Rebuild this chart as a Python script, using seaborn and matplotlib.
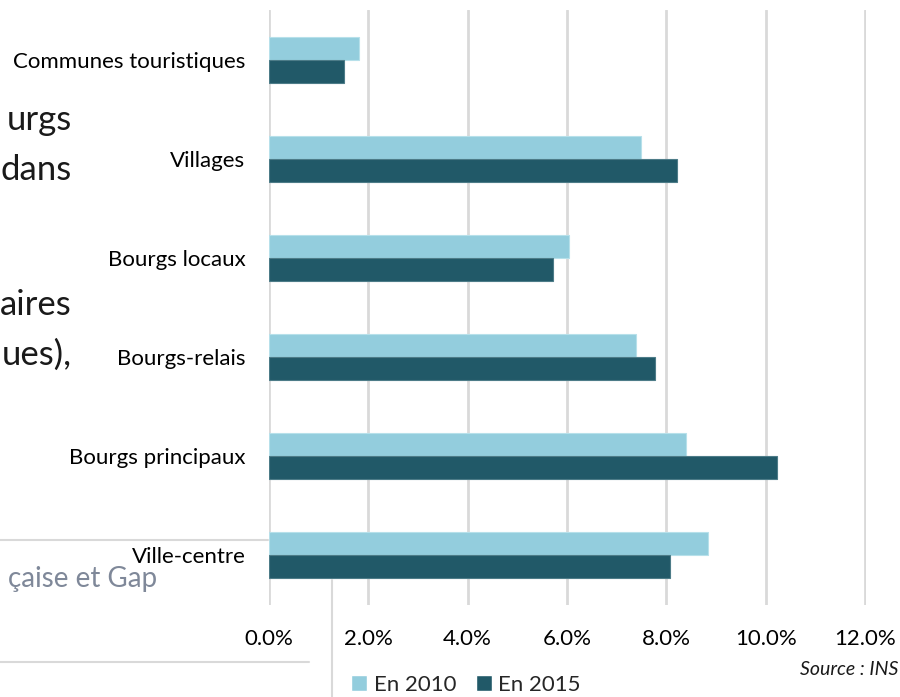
import numpy as np
import pandas as pd
import matplotlib.pyplot as plt
import seaborn as sns
from matplotlib.ticker import PercentFormatter
from matplotlib.lines import Line2D
from matplotlib.patches import Patch

# ---- data ----
categories = ["Communes touristiques", "Villages", "Bourgs locaux",
              "Bourgs-relais", "Bourgs principaux", "Ville-centre"]
years = ["En 2010", "En 2015"]
share_2010 = [0.0181, 0.0748, 0.0604, 0.0738, 0.0840, 0.0883]
share_2015 = [0.0151, 0.0822, 0.0572, 0.0778, 0.1023, 0.0807]
x_ticks = [0.0, 0.02, 0.04, 0.06, 0.08, 0.10, 0.12]

light = "#93cddd"
dark = "#215968"

df = pd.DataFrame({
    "category": categories * 2,
    "year": [years[0]] * len(categories) + [years[1]] * len(categories),
    "value": share_2010 + share_2015,
})

sns.set_theme(style="white")
plt.rcParams["font.family"] = ["Lato", "DejaVu Sans"]

W, H = 900, 697
fig = plt.figure(figsize=(9, 6.97), dpi=100)
ax = fig.add_axes([269 / W, 92 / H, 597 / W, 595 / H])

sns.barplot(data=df, x="value", y="category", hue="year", order=categories,
            hue_order=years, palette=[light, dark], saturation=1,
            width=0.465, gap=0, orient="h", legend=False, ax=ax)

for cont, ec in zip(ax.containers, ["#b7e0ea", "#4d7c88"]):
    for bar in cont:
        bar.set_edgecolor(ec)
        bar.set_linewidth(0.8)

ax.set_xlim(0, 0.1202)
ax.set_ylim(len(categories) - 0.5, -0.5)
ax.set_xticks(x_ticks)
ax.xaxis.set_major_formatter(PercentFormatter(xmax=1, decimals=1))
ax.grid(axis="x", color="#d9d9d9", linewidth=2)
ax.grid(axis="y", visible=False)
ax.set_axisbelow(True)
sns.despine(ax=ax, left=True, bottom=True)
ax.tick_params(length=0, labelsize=16, colors="black", pad=17)
ax.set_xlabel("")
ax.set_ylabel("")

# legend under the axis
handles = [Patch(facecolor=light), Patch(facecolor=dark)]
fig.legend(handles, years, loc="center", bbox_to_anchor=(466 / W, 1 - 685 / H),
           ncol=2, frameon=False, fontsize=16, handlelength=0.7,
           handleheight=0.7, handletextpad=0.3, columnspacing=0.9,
           borderaxespad=0)

# ---- bits of the slide behind the chart ----
for txt, base in [("urgs", 130), ("dans", 180), ("aires", 315), ("ues),", 365)]:
    fig.text(72 / W, 1 - base / H, txt, ha="right", va="baseline",
             fontsize=25, color="#1a1a1a")
fig.text(157 / W, 1 - 587 / H, "çaise et Gap", ha="right", va="baseline",
         fontsize=20, color="#7f8899")
fig.text(800 / W, 1 - 675 / H, "Source : INS", ha="left", va="baseline",
         fontsize=14, style="italic", color="#1a1a1a")

fig.add_artist(Line2D([0, 268 / W], [1 - 540 / H] * 2, color="#d9d9d9", lw=1.5))
fig.add_artist(Line2D([0, 309 / W], [1 - 662 / H] * 2, color="#d9d9d9", lw=1.5))
fig.add_artist(Line2D([332 / W] * 2, [0, 1 - 580 / H], color="#d9d9d9", lw=1.5))

fig.savefig("out.png", dpi=100)
